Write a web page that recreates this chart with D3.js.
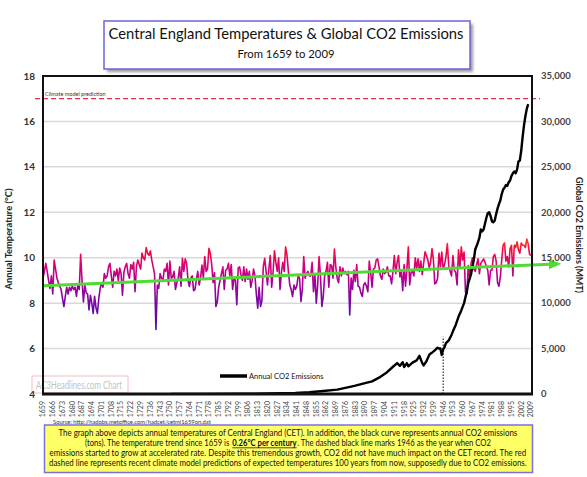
<!DOCTYPE html>
<html>
<head>
<meta charset="utf-8">
<script src="https://cdn.jsdelivr.net/npm/d3@7"></script>
<style>
body { margin: 0; background: #fff; }
svg { display: block; font-family: Lato, "Open Sans", sans-serif; }
</style>
</head>
<body>
<svg id="chart" width="587" height="477"></svg>
<script>

first_year = 1659
last_year = 2009

// annual CET means, 1659..2009, one per year
temps = [
    9.10, 9.40, 9.75, 9.40, 9.00, 8.65, 9.20, 8.40, 9.90, 9.50,
    9.10, 8.90, 8.75, 8.60, 8.20, 7.85, 8.30, 8.70, 8.40, 8.70,
    8.55, 8.75, 8.60, 8.70, 8.30, 8.80, 8.60, 10.15, 9.00, 8.05,
    8.80, 8.45, 8.40, 7.70, 8.35, 8.00, 7.55, 8.30, 7.80, 7.55,
    8.20, 8.65, 8.90, 8.70, 9.30, 9.10, 9.20, 9.60, 9.75, 9.20,
    8.70, 9.40, 9.20, 9.50, 9.00, 9.55, 9.30, 8.35, 9.35, 9.60,
    9.75, 9.30, 9.10, 9.70, 9.50, 9.80, 8.50, 9.60, 9.90, 9.70,
    9.50, 10.20, 10.00, 9.90, 10.45, 10.20, 10.10, 10.30, 9.90, 9.60,
    9.30, 6.84, 8.80, 8.65, 9.30, 9.10, 9.00, 9.50, 9.40, 9.75,
    8.80, 9.85, 9.10, 9.15, 9.40, 8.60, 8.90, 9.10, 9.60, 8.75,
    9.97, 9.40, 9.95, 9.75, 9.00, 8.73, 9.10, 9.20, 8.55, 8.60,
    9.05, 9.40, 8.80, 9.10, 9.68, 9.10, 10.05, 9.40, 9.50, 10.41,
    10.20, 9.70, 8.90, 9.35, 7.85, 8.05, 8.70, 9.00, 9.30, 9.60,
    8.60, 9.45, 9.50, 9.75, 9.20, 9.70, 8.60, 9.10, 9.00, 7.93,
    9.55, 9.60, 9.25, 9.00, 9.60, 8.95, 9.50, 9.05, 9.40, 8.70,
    9.00, 9.50, 9.20, 8.40, 7.78, 8.70, 7.85, 8.10, 9.60, 9.97,
    9.40, 8.80, 9.50, 10.10, 8.70, 9.35, 10.30, 9.80, 9.40, 10.00,
    8.60, 9.35, 9.80, 9.40, 10.48, 10.10, 9.40, 8.80, 8.60, 8.29,
    8.80, 8.60, 8.75, 9.20, 9.10, 8.07, 8.60, 10.05, 9.10, 9.30,
    9.40, 9.20, 9.20, 9.80, 8.50, 9.30, 8.00, 8.80, 10.05, 9.20,
    7.85, 8.30, 9.20, 9.40, 9.80, 8.70, 9.70, 9.65, 9.10, 10.38,
    9.60, 9.10, 8.90, 9.60, 9.20, 9.55, 9.30, 9.40, 9.25, 9.40,
    7.48, 9.10, 8.60, 9.45, 8.95, 9.70, 8.75, 8.70, 8.45, 8.30,
    8.80, 8.90, 8.75, 8.50, 9.85, 9.35, 8.70, 9.50, 9.55, 9.90,
    9.95, 9.60, 9.20, 9.05, 9.50, 9.30, 9.35, 9.60, 9.20, 9.20,
    8.85, 9.40, 10.10, 9.30, 9.80, 10.10, 9.15, 9.40, 8.55, 9.70,
    8.75, 9.50, 10.48, 8.80, 9.35, 9.40, 9.20, 10.00, 9.50, 9.95,
    9.40, 9.85, 9.25, 9.75, 10.26, 10.10, 9.90, 9.55, 9.80, 10.40,
    9.90, 8.85, 8.90, 9.10, 10.20, 9.60, 10.25, 9.50, 9.70, 10.05,
    10.62, 9.65, 9.40, 9.20, 10.10, 9.45, 9.35, 8.80, 10.35, 9.55,
    10.48, 9.90, 10.25, 8.50, 8.40, 9.65, 9.10, 9.75, 10.00, 9.50,
    9.40, 9.70, 9.95, 9.30, 9.75, 9.85, 9.95, 9.80, 9.60, 9.45,
    8.80, 9.45, 9.45, 10.05, 10.15, 9.85, 8.90, 8.75, 9.15, 9.90,
    10.55, 10.65, 9.85, 10.05, 9.60, 10.40, 10.55, 9.20, 10.55, 10.45,
    10.70, 10.35, 10.20, 10.65, 10.55, 10.55, 10.45, 10.82, 10.60, 10.15,
    10.10
]

co2_years = [1751, 1775, 1800, 1820, 1830, 1840, 1850, 1860, 1870, 1880,
    1883, 1890, 1895, 1900, 1905, 1910, 1913, 1915, 1917, 1918,
    1920, 1921, 1924, 1927, 1929, 1931, 1932, 1934, 1936, 1937,
    1938, 1940, 1942, 1943, 1944, 1945, 1946, 1947, 1948, 1950,
    1952, 1953, 1955, 1957, 1959, 1961, 1963, 1964, 1966, 1967,
    1968, 1969, 1971, 1972, 1973, 1974, 1975, 1977, 1978, 1979,
    1980, 1981, 1982, 1983, 1984, 1985, 1986, 1987, 1988, 1989,
    1990, 1991, 1992, 1993, 1994, 1995, 1996, 1997, 1998, 1999,
    2000, 2001, 2002, 2003, 2004, 2005, 2006, 2007]
co2_values = [11, 17, 29, 51, 90, 120, 200, 330, 480, 820,
    920, 1200, 1390, 1800, 2300, 3000, 3400, 3100, 3500, 2970,
    3400, 3040, 3450, 3700, 4200, 3400, 3150, 3600, 4300, 4450,
    4550, 4800, 5100, 5000, 5000, 4300, 4900, 5150, 5600, 5900,
    6500, 6900, 7600, 8500, 9200, 10000, 11300, 12200, 13200, 14000,
    14800, 15900, 16700, 17200, 18100, 17900, 18100, 19400, 19900, 20000,
    19600, 19000, 18900, 19100, 19800, 20400, 20900, 21300, 22000, 22500,
    22700, 23000, 22900, 23300, 23500, 24000, 24300, 24500, 24300, 24700,
    25600, 25700, 26800, 28300, 29600, 30600, 31400, 31900]

temp_ticks = [4, 6, 8, 10, 12, 14, 16, 18]
co2_ticks = [0, 5000, 10000, 15000, 20000, 25000, 30000, 35000]
year_labels = d3.range(first_year, last_year + 1, 7)

trend_temps = [8.77, 9.68]
model_prediction = 17
marker_year = 1946
marker_top = 6300

// [text, bold, gap after]
note_lines = [
    [["The graph above depicts annual temperatures of Central England (CET). In addition, the black curve represents annual CO2 emissions", false, 0]],
    [["(tons). The temperature trend since 1659 is", false, 3], ["0.26°C per century", true, 0.5], [". The dashed black line marks 1946 as the year when CO2", false, 0]],
    [["emissions started to grow at accelerated rate. Despite this tremendous growth, CO2 did not have much impact on the CET record. The red", false, 0]],
    [["dashed line represents recent climate model predictions of expected temperatures 100 years from now, supposedly due to CO2 emissions.", false, 0]]
]
note_widths = [459, 406, 477, 478]

plot_left = 43
plot_right = 532
plot_top = 76
plot_bottom = 394

svg = d3.select('#chart')

var xScale = d3.scaleLinear().domain([first_year, last_year]).range([plot_left, plot_right - 1])
var yTemp = d3.scaleLinear().domain([4, 18]).range([plot_bottom, plot_top])
var yCo2 = d3.scaleLinear().domain([0, 35000]).range([plot_bottom, plot_top])

defs = svg.append('defs')

var grad = defs.append('linearGradient')
    .attr('id', 'tempGrad')
    .attr('gradientUnits', 'userSpaceOnUse')
    .attr('x1', 0).attr('x2', 0)
    .attr('y1', yTemp(10.9)).attr('y2', yTemp(6.8))
grad.selectAll('stop')
    .data([[0, '#ff4a1c'], [0.14, '#f5063f'], [0.32, '#d4007a'], [0.52, '#a1009a'], [0.76, '#6c08a8'], [1, '#3a1aa2']])
    .enter().append('stop')
    .attr('offset', d => d[0])
    .attr('stop-color', d => d[1])

defs.append('filter').attr('id', 'shadow')
    .append('feGaussianBlur').attr('stdDeviation', 1.5)

defs.append('marker')
    .attr('id', 'arrow')
    .attr('viewBox', '0 0 10 8')
    .attr('refX', 1).attr('refY', 4)
    .attr('markerWidth', 4.2).attr('markerHeight', 3.4)
    .attr('orient', 'auto')
    .append('path')
    .attr('d', 'M0,0 L10,4 L0,8 z')
    .attr('fill', '#4fdb34')

// title box
svg.append('rect')
    .attr('x', 107).attr('y', 24).attr('width', 366).attr('height', 48)
    .attr('fill', '#9a9a9a').attr('filter', 'url(#shadow)')
svg.append('rect')
    .attr('x', 104).attr('y', 21).attr('width', 366).attr('height', 48)
    .attr('fill', '#fff').attr('stroke', '#6d64dc').attr('stroke-width', 1.5)
svg.append('text')
    .attr('x', 286).attr('y', 38.5)
    .attr('text-anchor', 'middle')
    .attr('font-size', 15)
    .attr('fill', '#111')
    .attr('textLength', 355).attr('lengthAdjust', 'spacingAndGlyphs')
    .text('Central England Temperatures & Global CO2 Emissions')
svg.append('text')
    .attr('x', 286).attr('y', 57.5)
    .attr('text-anchor', 'middle')
    .attr('font-size', 12)
    .attr('fill', '#111')
    .attr('textLength', 97).attr('lengthAdjust', 'spacingAndGlyphs')
    .text('From 1659 to 2009')

// gridlines
svg.selectAll('.grid')
    .data(temp_ticks.slice(1, -1))
    .enter().append('line')
    .attr('class', 'grid')
    .attr('x1', plot_left).attr('x2', plot_right)
    .attr('y1', d => yTemp(d)).attr('y2', d => yTemp(d))
    .attr('stroke', '#d9d9d9').attr('stroke-width', 1.5)

// watermark sits under the frame
svg.append('rect')
    .attr('x', 32).attr('y', 376).attr('width', 96).attr('height', 17)
    .attr('fill', 'none').attr('stroke', '#f2bcc4').attr('stroke-width', 1)
svg.append('text')
    .attr('x', 36).attr('y', 389)
    .attr('font-size', 10.5)
    .attr('fill', '#c4c4c4')
    .attr('textLength', 86).attr('lengthAdjust', 'spacingAndGlyphs')
    .text('AC3Headlines.com Chart')

// climate model prediction
svg.append('line')
    .attr('x1', 35).attr('x2', 540)
    .attr('y1', yTemp(model_prediction)).attr('y2', yTemp(model_prediction))
    .attr('stroke', '#e8334a').attr('stroke-width', 1.2)
    .attr('stroke-dasharray', '5,3')
svg.append('text')
    .attr('x', 45).attr('y', yTemp(model_prediction) - 2.5)
    .attr('font-size', 5.5)
    .attr('fill', '#333')
    .text('Climate model prediction')

// temperature line
var tempLine = d3.line()
    .x((d, i) => xScale(first_year + i))
    .y(d => yTemp(d))
svg.append('path')
    .datum(temps)
    .attr('d', tempLine)
    .attr('fill', 'none')
    .attr('stroke', 'url(#tempGrad)')
    .attr('stroke-width', 1.6)
    .attr('stroke-linejoin', 'round')

// 1946 marker
svg.append('line')
    .attr('x1', xScale(marker_year)).attr('x2', xScale(marker_year))
    .attr('y1', plot_bottom).attr('y2', yCo2(marker_top))
    .attr('stroke', '#000').attr('stroke-width', 1)
    .attr('stroke-dasharray', '1.5,1.5')

// co2 line
var co2Line = d3.line()
    .x((d, i) => xScale(co2_years[i]))
    .y(d => yCo2(d))
svg.append('path')
    .datum(co2_values)
    .attr('d', co2Line)
    .attr('fill', 'none')
    .attr('stroke', '#000')
    .attr('stroke-width', 2.4)
    .attr('stroke-linejoin', 'round')

// trend arrow
var trendAt = d3.scaleLinear().domain([xScale(first_year), xScale(last_year)]).range(trend_temps)
var arrowEnd = plot_right + 18
svg.append('line')
    .attr('x1', xScale(first_year)).attr('y1', yTemp(trend_temps[0]))
    .attr('x2', arrowEnd).attr('y2', yTemp(trendAt(arrowEnd)))
    .attr('stroke', '#4fdb34').attr('stroke-width', 3)
    .attr('marker-end', 'url(#arrow)')

// plot frame
svg.append('rect')
    .attr('x', plot_left).attr('y', plot_top)
    .attr('width', plot_right - plot_left).attr('height', plot_bottom - plot_top)
    .attr('fill', 'none').attr('stroke', '#111').attr('stroke-width', 2)
svg.append('line')
    .attr('x1', plot_left - 1).attr('x2', plot_right + 1)
    .attr('y1', plot_bottom).attr('y2', plot_bottom)
    .attr('stroke', '#111').attr('stroke-width', 3)

// left axis labels
svg.selectAll('.tl')
    .data(temp_ticks)
    .enter().append('text')
    .attr('class', 'tl')
    .attr('x', 35).attr('y', d => yTemp(d))
    .attr('dy', '0.35em')
    .attr('text-anchor', 'end')
    .attr('font-size', 10).attr('font-weight', 'bold')
    .attr('fill', '#333')
    .text(d => d)

// right axis labels
svg.selectAll('.cl')
    .data(co2_ticks)
    .enter().append('text')
    .attr('class', 'cl')
    .attr('x', 541).attr('y', d => yCo2(d))
    .attr('dy', '0.35em')
    .attr('font-size', 9.5).attr('font-weight', 'bold')
    .attr('fill', '#444')
    .text(d => d3.format(',')(d))

// year labels
svg.selectAll('.yl')
    .data(year_labels)
    .enter().append('text')
    .attr('class', 'yl')
    .attr('transform', d => 'translate(' + (xScale(d) + 2.4) + ',401) rotate(-90)')
    .attr('text-anchor', 'end')
    .attr('font-size', 7)
    .attr('fill', '#444')
    .text(d => d)

// axis titles
svg.append('text')
    .attr('transform', 'translate(12,239) rotate(-90)')
    .attr('text-anchor', 'middle')
    .attr('font-size', 10).attr('font-weight', 'bold')
    .attr('fill', '#222')
    .attr('textLength', 101).attr('lengthAdjust', 'spacingAndGlyphs')
    .text('Annual Temperature (°C)')
svg.append('text')
    .attr('transform', 'translate(576,235) rotate(90)')
    .attr('text-anchor', 'middle')
    .attr('font-size', 9.5).attr('font-weight', 'bold')
    .attr('fill', '#222')
    .attr('textLength', 116).attr('lengthAdjust', 'spacingAndGlyphs')
    .text('Global CO2 Emissions (MMT)')

// legend
svg.append('line')
    .attr('x1', 220).attr('x2', 247)
    .attr('y1', 376).attr('y2', 376)
    .attr('stroke', '#000').attr('stroke-width', 3.5)
svg.append('text')
    .attr('x', 249).attr('y', 378.5)
    .attr('font-size', 7.5)
    .attr('fill', '#111')
    .text('Annual CO2 Emissions')

// source
svg.append('text')
    .attr('x', 53).attr('y', 423.5)
    .attr('font-size', 5.8)
    .attr('fill', '#333')
    .text('Source: http://hadobs.metoffice.com/hadcet/cetml1659on.dat')

// yellow note box
svg.append('rect')
    .attr('x', 44.5).attr('y', 425).attr('width', 488).attr('height', 47.5)
    .attr('fill', '#ffff66').attr('stroke', '#7a6fe2').attr('stroke-width', 1.5)

// each line laid out at natural width, then the whole group squeezed horizontally
note_lines.forEach(function (parts, i) {
    var baseY = 436.5 + i * 10
    var g = svg.append('g')
    var pieces = parts.map(p => g.append('text')
        .attr('y', baseY)
        .attr('font-size', 8.6)
        .attr('fill', '#111')
        .attr('font-weight', p[1] ? 'bold' : null)
        .text(p[0]))
    var natural = pieces.map(t => t.node().getComputedTextLength())
    var gaps = d3.sum(parts, p => p[2])
    var k = (note_widths[i] - gaps) / d3.sum(natural)
    var x = 0
    pieces.forEach(function (t, j) {
        t.attr('x', x)
        if (parts[j][1]) {
            g.append('line')
                .attr('x1', x).attr('x2', x + natural[j])
                .attr('y1', baseY + 1.3).attr('y2', baseY + 1.3)
                .attr('stroke', '#111').attr('stroke-width', 0.8)
        }
        x += natural[j] + parts[j][2] / k
    })
    g.attr('transform', 'translate(' + (288 - note_widths[i] / 2) + ',0) scale(' + k + ',1)')
})

</script>
</body>
</html>
